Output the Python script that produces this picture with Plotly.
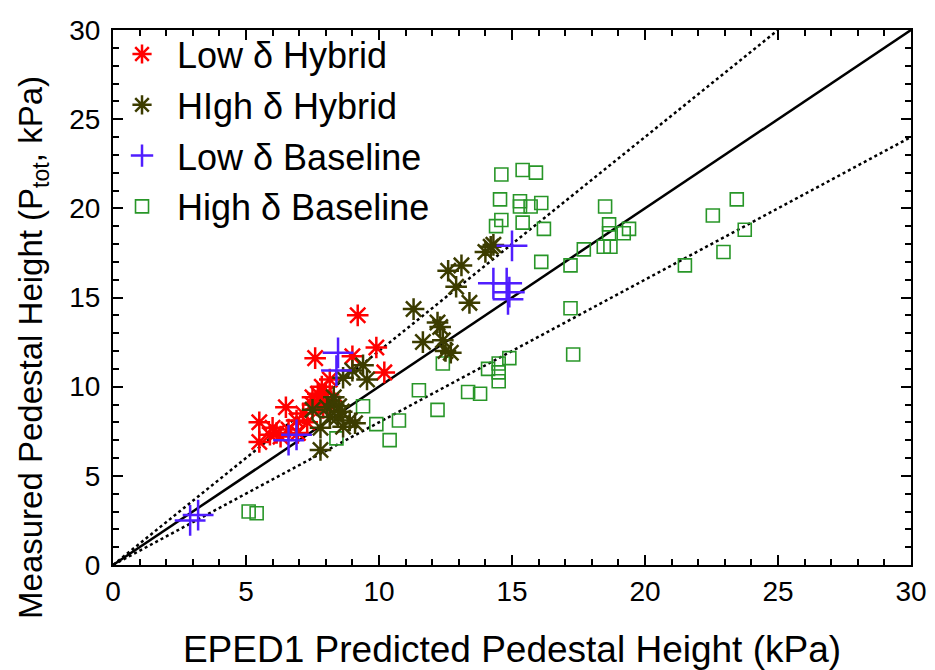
import plotly.graph_objects as go

# ---- data ----
low_hyb_x = [9.2, 7.6, 9.9, 10.2, 9.0, 5.5, 5.5, 6.5, 6.0, 6.15, 6.3, 6.9, 7.15, 7.5, 7.85, 8.15, 8.0, 7.65, 7.3, 6.95, 7.5, 7.9, 8.2, 7.7, 6.6, 5.9]
low_hyb_y = [14.0, 11.6, 12.2, 10.8, 11.7, 8.0, 6.9, 8.85, 7.7, 7.4, 7.2, 8.1, 8.5, 9.4, 10.0, 10.4, 9.6, 9.1, 8.0, 7.4, 9.0, 8.8, 9.2, 9.6, 7.6, 7.3]

high_hyb_x = [11.3, 12.2, 12.3, 12.9, 12.6, 13.1, 13.4, 14.0, 14.2, 14.3, 11.65, 12.5, 12.7, 12.4,
              9.4, 9.55, 9.0, 8.65, 8.3, 7.5, 7.8, 7.8, 8.45, 8.9, 9.1, 8.15, 8.5, 8.05, 8.65, 8.3, 8.6]
high_hyb_y = [14.35, 13.6, 13.35, 15.6, 16.5, 16.8, 14.7, 17.55, 17.85, 17.95, 12.5, 12.0, 11.9, 12.6,
              11.2, 10.4, 10.9, 10.5, 9.4, 8.7, 7.7, 6.45, 8.3, 8.1, 7.95, 8.3, 8.9, 8.85, 7.75, 9.0, 8.6]

low_base_x = [2.9, 3.2, 8.46, 8.4, 6.6, 6.9, 15.0, 14.3, 14.8, 14.9, 14.85]
low_base_y = [2.5, 2.8, 11.9, 10.9, 7.0, 7.3, 17.9, 15.8, 15.8, 15.3, 14.9]

high_base_x = [5.1, 5.4, 12.4, 11.5, 9.4, 8.4, 9.9, 10.75, 10.4, 12.2, 13.35, 13.8, 14.1, 14.5, 14.9, 14.5, 14.5,
               14.6, 15.4, 15.9, 14.55, 15.3, 15.3, 15.7, 16.1, 14.6, 14.4, 15.4, 16.2, 16.1,
               18.5, 18.65, 18.65, 19.4, 19.2, 17.7, 18.45, 18.7, 17.2, 17.2, 21.5, 22.55, 23.45, 23.75, 22.95, 17.3]
high_base_y = [3.0, 2.9, 11.3, 9.8, 8.9, 7.1, 7.9, 8.1, 7.0, 8.7, 9.7, 9.6, 11.0, 11.3, 11.6, 10.8, 10.3,
               21.9, 22.15, 22.0, 20.5, 20.4, 20.1, 20.1, 20.3, 19.35, 19.0, 19.2, 18.85, 17.0,
               20.1, 19.1, 18.6, 18.85, 18.6, 17.7, 17.85, 17.85, 16.8, 14.4, 16.8, 19.6, 20.5, 18.8, 17.55, 11.8]

ref_x = [0, 30]
ref_y = [0, 30]
upper_x = [0, 25]
upper_y = [0, 30]
lower_x = [0, 30]
lower_y = [0, 24]

tick_vals = [0, 5, 10, 15, 20, 25, 30]
x_title = "EPED1 Predicted Pedestal Height (kPa)"
y_title = "Measured Pedestal Height (P<sub>tot</sub>, kPa)"

FONT = "Liberation Sans, Arial, Helvetica"

fig = go.Figure()

fig.add_trace(go.Scatter(x=ref_x, y=ref_y, mode="lines", line=dict(color="black", width=2.5), showlegend=False, hoverinfo="skip"))
fig.add_trace(go.Scatter(x=upper_x, y=upper_y, mode="lines", line=dict(color="black", width=2.5, dash="dot"), showlegend=False, hoverinfo="skip"))
fig.add_trace(go.Scatter(x=lower_x, y=lower_y, mode="lines", line=dict(color="black", width=2.5, dash="dot"), showlegend=False, hoverinfo="skip"))

fig.add_trace(go.Scatter(x=high_base_x, y=high_base_y, mode="markers", name="High δ Baseline", legendrank=4, legendgroup="d",
                         marker=dict(symbol="square-open", size=13, color="rgb(40,150,40)", line=dict(width=1.6))))
fig.add_trace(go.Scatter(x=low_hyb_x, y=low_hyb_y, mode="markers", name="Low δ Hybrid", legendrank=1, legendgroup="a",
                         marker=dict(symbol="asterisk-open", size=18, color="rgb(255,0,0)", line=dict(width=2.5, color="rgb(255,0,0)"))))
fig.add_trace(go.Scatter(x=high_hyb_x, y=high_hyb_y, mode="markers", name="HIgh δ Hybrid", legendrank=2, legendgroup="b",
                         marker=dict(symbol="asterisk-open", size=18, color="rgb(60,60,0)", line=dict(width=2.5, color="rgb(60,60,0)"))))
fig.add_trace(go.Scatter(x=low_base_x, y=low_base_y, mode="markers", name="Low δ Baseline", legendrank=3, legendgroup="c",
                         marker=dict(symbol="cross-thin-open", size=22, color="rgb(80,30,255)", line=dict(width=2.5, color="rgb(80,30,255)"))))

axis_common = dict(range=[0, 30], tickvals=tick_vals, ticks="inside", ticklen=10, tickwidth=2,
                   tickcolor="black", showline=True, linecolor="black", linewidth=2, mirror="ticks",
                   showgrid=False, zeroline=False, automargin=False,
                   tickfont=dict(family=FONT, size=28, color="black"),
                   minor=dict(dtick=1, ticks="inside", ticklen=6, tickwidth=1.5, tickcolor="black", showgrid=False))

fig.update_layout(
    width=935, height=670,
    margin=dict(l=113, r=24, t=30, b=105),
    paper_bgcolor="white", plot_bgcolor="white",
    font=dict(family=FONT, color="black"),
    xaxis=dict(**axis_common, title=dict(text=x_title, font=dict(size=37), standoff=41)),
    yaxis=dict(**axis_common, ticklabelstandoff=5),
    legend=dict(x=-0.0075, y=1.011, xanchor="left", yanchor="top", bgcolor="rgba(0,0,0,0)",
                font=dict(size=36, family=FONT), tracegroupgap=1, itemsizing="trace", itemwidth=60),
    showlegend=True,
    annotations=[dict(text=y_title, textangle=-90, xref="paper", yref="paper", x=-0.1003, y=0.4075,
                      xanchor="center", yanchor="middle", showarrow=False, font=dict(size=33, family=FONT))],
)

fig.write_html("out.html")
